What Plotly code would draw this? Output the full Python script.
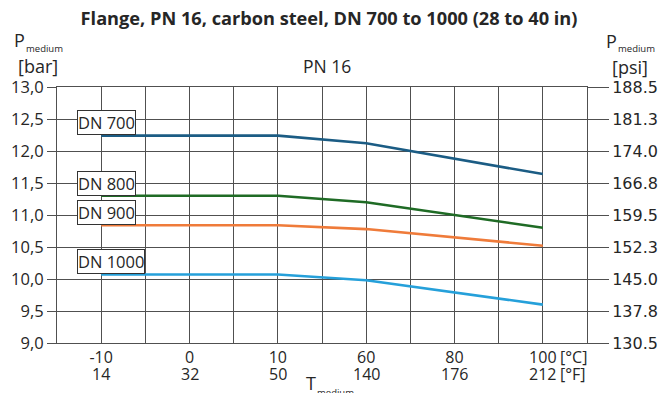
import plotly.graph_objects as go

# ---- data ----
temps_c = ["-10", "0", "10", "60", "80", "100"]
temps_f = ["14", "32", "50", "140", "176", "212"]
series_names = ["DN 700", "DN 800", "DN 900", "DN 1000"]
dn700 = [12.24, 12.24, 12.24, 12.12, 11.88, 11.64]
dn800 = [11.30, 11.30, 11.30, 11.20, 11.00, 10.80]
dn900 = [10.84, 10.84, 10.84, 10.78, 10.65, 10.52]
dn1000 = [10.07, 10.07, 10.07, 9.98, 9.79, 9.60]
bar_ticks = [9.0, 9.5, 10.0, 10.5, 11.0, 11.5, 12.0, 12.5, 13.0]
bar_labels = ["9,0", "9,5", "10,0", "10,5", "11,0", "11,5", "12,0", "12,5", "13,0"]
psi_labels = ["130.5", "137.8", "145.0", "152.3", "159.5", "166.8", "174.0", "181.3", "188.5"]
BAR_TO_PSI = 14.5038

colors = ["#1b5c84", "#1f6b25", "#ef7b3a", "#25a0da"]
FONT = "Open Sans"
FONT2 = "DejaVu Sans"
TXT = "#262626"
GRID = "#505050"

x = list(range(1, len(temps_c) + 1))
series = [dn700, dn800, dn900, dn1000]

fig = go.Figure()
for name, vals, col in zip(series_names, series, colors):
    fig.add_trace(go.Scatter(x=x, y=vals, mode="lines", name=name,
                             line=dict(color=col, width=2.6), showlegend=False))
# invisible trace for secondary axis
fig.add_trace(go.Scatter(x=[x[0]], y=[bar_ticks[0] * BAR_TO_PSI], yaxis="y2",
                         mode="markers", marker=dict(opacity=0), showlegend=False,
                         hoverinfo="skip"))

L, R, T, B = 57, 75, 87, 50
W, H = 662, 393
PW, PH = W - L - R, H - T - B

def pa(text, xp, yp, size, anchor="left", family=FONT):
    return dict(x=(xp - L) / PW, y=1 - (yp - T) / PH, xref="paper", yref="paper", text=text,
                showarrow=False, xanchor=anchor, yanchor="middle",
                font=dict(family=family, size=size, color=TXT))

annotations = []
for name, vals in zip(series_names, series):
    annotations.append(dict(x=x[0], y=vals[0] + 0.2, xref="x", yref="y", text=name,
                            showarrow=False, xanchor="left", yanchor="middle", xshift=-24,
                            bgcolor="white", bordercolor="#333", borderwidth=1, borderpad=0,
                            font=dict(family=FONT, size=16.5, color=TXT)))
# Fahrenheit row
for xi, f in zip(x, temps_f):
    annotations.append(dict(x=xi, y=0, xref="x", yref="paper", text=f, showarrow=False,
                            yanchor="top", yshift=-18, font=dict(family=FONT, size=16, color=TXT)))
annotations += [
    dict(x=x[-1], y=0, xref="x", yref="paper", text="[°C]", showarrow=False, xanchor="left",
         yanchor="top", xshift=15, yshift=-1, font=dict(family=FONT, size=16, color=TXT)),
    dict(x=x[-1], y=0, xref="x", yref="paper", text="[°F]", showarrow=False, xanchor="left",
         yanchor="top", xshift=15, yshift=-18, font=dict(family=FONT, size=16, color=TXT)),
    pa("P", 12, 40, 18),
    pa("medium", 24, 48, 9.5),
    pa("[bar]", 16, 66, 18),
    pa("P", 604, 41, 18),
    pa("medium", 616, 48, 9.5),
    pa("[psi]", 610, 67, 18),
    pa("PN 16", 327, 66, 17.5, "center"),
    pa("T", 304, 383, 18),
    pa("medium", 315, 392, 9.5),
]

fig.update_layout(
    width=W, height=H,
    margin=dict(l=L, r=R, t=T, b=B, autoexpand=False),
    paper_bgcolor="white", plot_bgcolor="white",
    title=dict(text="<b>Flange, PN 16, carbon steel, DN 700 to 1000 (28 to 40 in)</b>",
               x=0.497, xanchor="center", y=1 - 19 / H, yanchor="middle",
               font=dict(family=FONT, size=18.2, color=TXT)),
    font=dict(family=FONT, color=TXT),
    xaxis=dict(range=[0.5, len(x) + 0.5], tickvals=x, ticktext=temps_c,
               showgrid=True, gridcolor=GRID, gridwidth=1,
               minor=dict(tickvals=[v + 0.5 for v in x[:-1]], showgrid=True,
                          gridcolor=GRID, gridwidth=1),
               showline=True, linecolor=GRID, mirror=True, ticks="",
               tickfont=dict(family=FONT, size=16, color=TXT), zeroline=False,
               automargin=False),
    yaxis=dict(range=[bar_ticks[0], bar_ticks[-1]], tickvals=bar_ticks, ticktext=bar_labels,
               showgrid=True, gridcolor=GRID, gridwidth=1, showline=True, linecolor=GRID,
               mirror=True, ticks="outside", ticklen=9, tickcolor=GRID,
               tickfont=dict(family=FONT, size=16.5, color=TXT), zeroline=False,
               automargin=False),
    yaxis2=dict(range=[bar_ticks[0] * BAR_TO_PSI, bar_ticks[-1] * BAR_TO_PSI],
                tickvals=[v * BAR_TO_PSI for v in bar_ticks], ticktext=psi_labels,
                overlaying="y", side="right", showgrid=False, ticks="outside", ticklen=21,
                tickcolor=GRID, tickfont=dict(family=FONT2, size=16, color=TXT),
                zeroline=False, showline=False, automargin=False),
    annotations=annotations,
)

fig.write_html("out.html", config={"displayModeBar": False},
               post_script="document.body.style.margin='0';document.body.style.overflow='hidden';")
